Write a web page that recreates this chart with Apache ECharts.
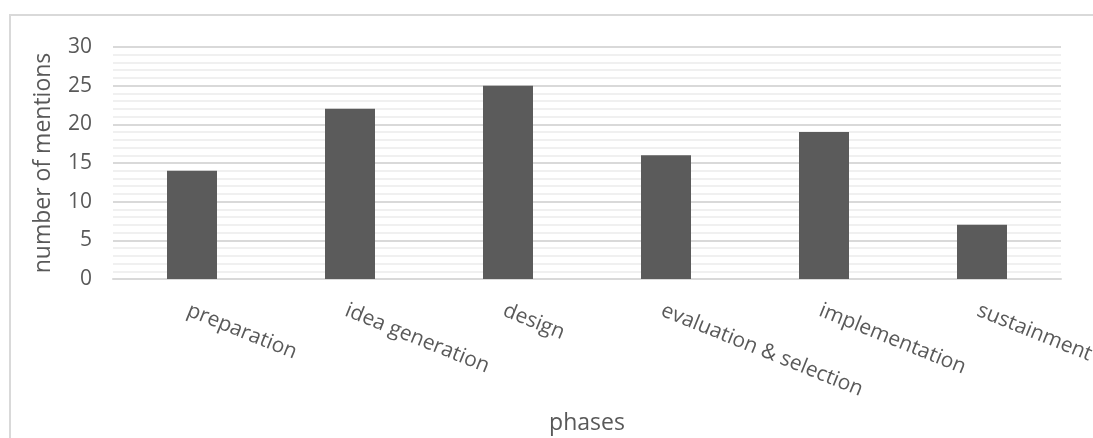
<!DOCTYPE html>
<html>
<head>
<meta charset="utf-8">
<script src="https://cdn.jsdelivr.net/npm/echarts@6/dist/echarts.min.js"></script>
<style>
  html, body { margin: 0; padding: 0; background: #ffffff; }
  #chart { width: 1093px; height: 438px; }
</style>
</head>
<body>
<div id="chart"></div>
<script>
// Mentions of each phase
const phases = ['preparation', 'idea generation', 'design', 'evaluation & selection', 'implementation', 'sustainment'];
const mentions = [14, 22, 25, 16, 19, 7];

// Value axis range
const yMin = 0;
const yMax = 30;
const yStep = 5;

const FONT = '"Open Sans", Lato, sans-serif';
const TEXT = '#595959';

const chart = echarts.init(document.getElementById('chart'), null, { renderer: 'canvas' });

chart.setOption({
  animation: false,
  backgroundColor: '#ffffff',
  graphic: [{
    type: 'rect',
    shape: { x: 10, y: 15, width: 1200, height: 600 },
    style: { fill: 'none', stroke: '#d9d9d9', lineWidth: 2 },
    silent: true,
    z: -1
  }],
  grid: { left: 113, right: 32, top: 47, bottom: 159, containLabel: false, outerBoundsMode: 'none' },
  xAxis: {
    type: 'category',
    data: phases,
    name: 'phases',
    nameLocation: 'middle',
    nameGap: 133,
    nameTextStyle: { color: TEXT, fontFamily: FONT, fontSize: 23 },
    axisLine: { show: true, lineStyle: { color: '#d9d9d9', width: 2 } },
    axisTick: { show: false },
    axisLabel: {
      interval: 0,
      rotate: -22,
      margin: 21,
      verticalAlign: 'top',
      color: TEXT,
      fontFamily: FONT,
      fontSize: 21
    }
  },
  yAxis: {
    type: 'value',
    min: yMin,
    max: yMax,
    interval: yStep,
    name: 'number of mentions',
    nameLocation: 'middle',
    nameGap: 58,
    nameTextStyle: { color: TEXT, fontFamily: FONT, fontSize: 23 },
    axisLine: { show: false },
    axisTick: { show: false },
    axisLabel: { margin: 21, color: TEXT, fontFamily: FONT, fontSize: 21 },
    splitLine: { show: true, lineStyle: { color: '#d9d9d9', width: 2 } },
    minorTick: { show: false, splitNumber: 5 },
    minorSplitLine: { show: true, lineStyle: { color: '#f0f0f0', width: 2 } }
  },
  series: [{
    type: 'bar',
    data: mentions,
    barWidth: 50,
    itemStyle: { color: '#5b5b5b' },
    emphasis: { disabled: true }
  }]
});
</script>
</body>
</html>
